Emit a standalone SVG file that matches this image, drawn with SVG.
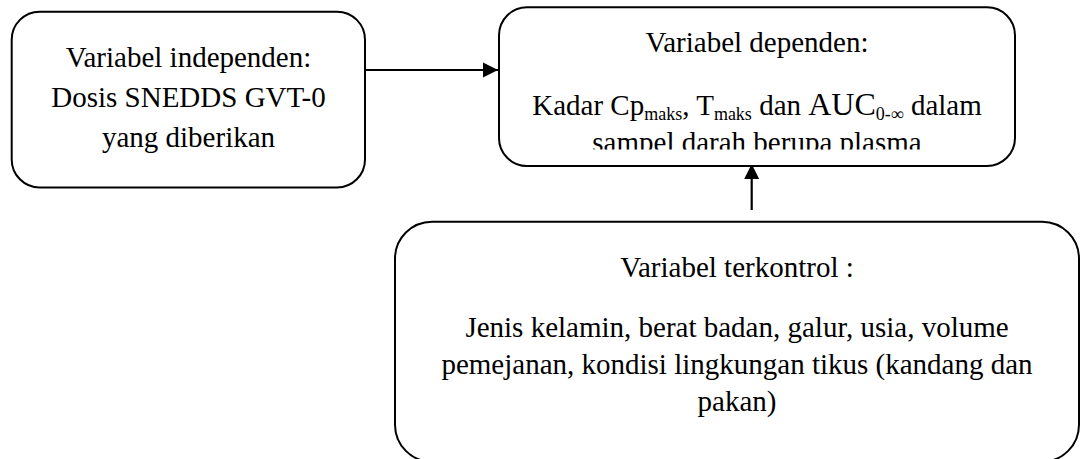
<svg xmlns="http://www.w3.org/2000/svg" width="1081" height="459" viewBox="0 0 1081 459">
  <defs>
    <style>
      .box { fill: #ffffff; stroke: #000000; stroke-width: 2; }
      .t { font-family: "Liberation Serif", "Times New Roman", serif; font-size: 29px; fill: #000000; text-anchor: middle; }
      .sub { font-size: 18px; }
      .big { font-size: 32px; }
      .conn { stroke: #000000; stroke-width: 2.2; fill: none; }
    </style>
    <marker id="arrow" markerWidth="16" markerHeight="16" refX="15" refY="8" orient="auto" markerUnits="userSpaceOnUse">
      <path d="M0,0.5 L15,8 L0,15.5 Z" fill="#000000"/>
    </marker>
    <clipPath id="clipDep">
      <rect x="499" y="0" width="520" height="149.5"/>
    </clipPath>
  </defs>
  <rect width="1081" height="459" fill="#ffffff"/>

  <g id="connectors">
    <line class="conn" x1="365" y1="70" x2="498" y2="70" marker-end="url(#arrow)"/>
    <line class="conn" x1="751.7" y1="210" x2="751.7" y2="164" marker-end="url(#arrow)"/>
  </g>

  <g id="node-independen">
    <rect class="box" x="11.7" y="11.7" width="353.3" height="175.8" rx="28" ry="28"/>
    <text class="t" x="188.5" y="66.7">Variabel independen:</text>
    <text class="t" x="188.5" y="106.7">Dosis SNEDDS GVT-0</text>
    <text class="t" x="188.5" y="146.7">yang diberikan</text>
  </g>

  <g id="node-dependen">
    <rect class="box" x="499" y="7.3" width="516" height="158.7" rx="28" ry="28"/>
    <text class="t" x="757" y="51.7">Variabel dependen:</text>
    <text class="t" x="757" y="115">Kadar Cp<tspan class="sub" dy="5">maks</tspan><tspan dy="-5">, T</tspan><tspan class="sub" dy="5">maks</tspan><tspan dy="-5"> dan </tspan><tspan class="big">AUC</tspan><tspan class="sub" dy="5">0-∞</tspan><tspan dy="-5"> dalam</tspan></text>
    <text class="t" x="757" y="152" clip-path="url(#clipDep)">sampel darah berupa plasma</text>
  </g>

  <g id="node-terkontrol">
    <rect class="box" x="395" y="221.7" width="684" height="240" rx="37" ry="37"/>
    <text class="t" x="737" y="276.7">Variabel terkontrol :</text>
    <text class="t" x="737" y="336.7">Jenis kelamin, berat badan, galur, usia, volume</text>
    <text class="t" x="737" y="373.5">pemejanan, kondisi lingkungan tikus (kandang dan</text>
    <text class="t" x="737" y="410.5">pakan)</text>
  </g>
</svg>
